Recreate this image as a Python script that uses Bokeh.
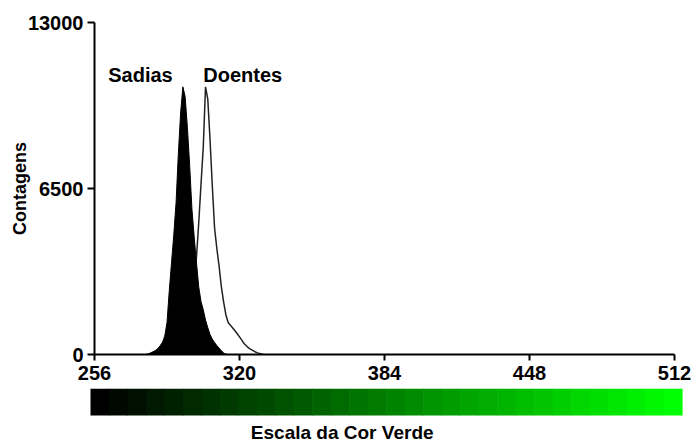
from bokeh.plotting import figure
from bokeh.models import Range1d, FixedTicker
from bokeh.layouts import column
from bokeh.core.properties import value
from bokeh.embed import file_html
from bokeh.resources import INLINE
import numpy as np

# ---- data (green-channel intensity histograms) ----
sadias_x = list(range(278, 316))
sadias_counts = [0, 10, 30, 75, 115, 165, 235, 350, 480, 720, 1250, 2500, 3600, 4700,
                 5950, 7850, 9450, 10480, 10100, 8900, 7400, 5700, 4600, 3600, 2650,
                 2080, 1750, 1350, 1050, 780, 600, 470, 350, 250, 150, 55, 15, 0]
doentes_x = list(range(291, 332))
doentes_counts = [0, 20, 60, 130, 250, 450, 800, 1400, 2200, 3100, 3800, 5150, 6650,
                  8110, 10480, 10000, 8400, 6600, 4950, 4150, 3450, 2650, 2050, 1550,
                  1250, 1150, 1040, 930, 810, 690, 560, 430, 340, 260, 200, 150, 100,
                  65, 35, 15, 0]
x_ticks = [256, 320, 384, 448, 512]
y_ticks = [0, 6500, 13000]
series_names = ["Sadias", "Doentes"]
label_x = [276.3, 321.4]
label_y = [10925, 10925]

FONT = "Liberation Sans"

p = figure(width=694, height=388, output_backend="svg", toolbar_location=None,
           x_range=Range1d(256, 512), y_range=Range1d(0, 13000),
           min_border_left=94, min_border_right=20, min_border_top=22,
           min_border_bottom=34)
p.frame_align = False
p.outline_line_color = None
p.grid.visible = False
p.background_fill_color = "white"
p.border_fill_color = "white"

p.xaxis.ticker = FixedTicker(ticks=x_ticks)
p.yaxis.ticker = FixedTicker(ticks=y_ticks)
for ax in (p.xaxis, p.yaxis):
    ax.axis_line_width = 2
    ax.axis_line_color = "black"
    ax.major_tick_line_width = 2
    ax.major_tick_line_color = "black"
    ax.minor_tick_line_color = None
    ax.major_tick_in = 0
    ax.major_label_text_font = FONT
    ax.major_label_text_font_style = "bold"
    ax.major_label_text_font_size = "20px"
    ax.major_label_text_color = "black"
p.xaxis.major_tick_out = 6
p.yaxis.major_tick_out = 7
p.xaxis.major_label_standoff = 5
p.yaxis.major_label_standoff = 4
p.yaxis.axis_label = "Contagens"
p.yaxis.axis_label_text_font = FONT
p.yaxis.axis_label_text_font_style = "bold"
p.yaxis.axis_label_text_font_size = "18px"
p.yaxis.axis_label_text_color = "black"
p.yaxis.axis_label_standoff = -5

# Doentes (outline), drawn first so Sadias covers it
p.line(doentes_x, doentes_counts, line_color="#222222", line_width=1.5)
# Sadias (filled black)
p.varea(x=sadias_x, y1=[0] * len(sadias_x), y2=sadias_counts, fill_color="black")
p.line(sadias_x, sadias_counts, line_color="black", line_width=1)

p.text(x=label_x, y=label_y, text=series_names, text_font=value(FONT),
       text_font_style="bold", text_font_size="20px", text_align="center",
       text_baseline="middle", text_color="black")

# ---- colour-scale bar ----
W2, H2 = 694, 53
p2 = figure(width=W2, height=H2, output_backend="svg", toolbar_location=None,
            title=None,
            x_range=Range1d(0, W2), y_range=Range1d(H2, 0),
            x_axis_type=None, y_axis_type=None,
            min_border_left=0, min_border_right=0, min_border_top=0, min_border_bottom=0)
p2.frame_align = False
p2.outline_line_color = None
p2.grid.visible = False
p2.background_fill_color = "white"
p2.border_fill_color = "white"

bar_left, bar_right, bar_top, bar_bottom = 90, 681.5, 0, 27
n_bands = 32
edges = np.linspace(bar_left, bar_right, n_bands + 1)
greens = [int(round(255 * i / (n_bands - 1))) for i in range(n_bands)]
colors = ["#00%02x00" % g for g in greens]
p2.quad(left=edges[:-1], right=edges[1:] + 0.6, top=bar_top, bottom=bar_bottom,
        fill_color=colors, line_color=None)
p2.text(x=[341.7], y=[43.5], text=["Escala da Cor Verde"], text_font=value(FONT),
        text_font_style="bold", text_font_size="19px", text_align="center",
        text_baseline="middle", text_color="black")

layout = column(p, p2, spacing=0)
open("out.html", "w").write(file_html(layout, INLINE))
